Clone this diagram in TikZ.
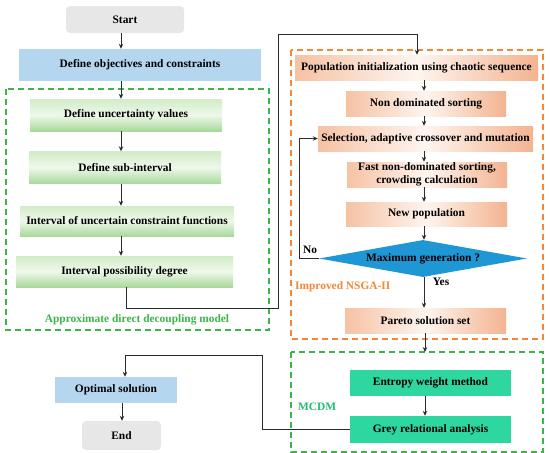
\documentclass[tikz,border=0pt]{standalone}
\usepackage{fontspec}
\setmainfont{Liberation Serif}
\usetikzlibrary{shapes.geometric,arrows.meta,calc}
\definecolor{grayfill}{HTML}{E7E7E7}
\definecolor{bluefill}{HTML}{B5D6EF}
\definecolor{greenTop}{HTML}{D2ECC8}
\definecolor{greenMid}{HTML}{EEF8EA}
\definecolor{greenBot}{HTML}{A8D99B}
\definecolor{orL}{HTML}{F6C2A4}
\definecolor{orM}{HTML}{FEF5EF}
\definecolor{orR}{HTML}{F3B390}
\definecolor{diafill}{HTML}{1F97D5}
\definecolor{tealfill}{HTML}{2ED6A0}
\definecolor{gdash}{HTML}{3CB54A}
\definecolor{odash}{HTML}{F58634}
\definecolor{mcdmtxt}{HTML}{22BC6E}
\definecolor{linec}{HTML}{2B2B2B}
\tikzset{
  basebox/.style={rectangle, inner sep=0pt, align=center, text=black,
    font=\bfseries\fontsize{11.4}{13}\selectfont},
  graybox/.style={basebox, fill=grayfill, rounded corners=4pt},
  bluebox/.style={basebox, fill=bluefill},
  greenbox/.style={basebox, top color=greenTop, bottom color=greenBot, middle color=greenMid},
  orbox/.style={basebox, left color=orL, right color=orR, middle color=orM},
  tealbox/.style={basebox, fill=tealfill},
  arr/.style={draw=linec, line width=0.9pt, -{Stealth[length=5pt,width=4.5pt]}},
  conn/.style={draw=linec, line width=0.9pt},
  gframe/.style={draw=gdash, line width=1.4pt, dash pattern=on 6pt off 4pt},
  oframe/.style={draw=odash, line width=1.4pt, dash pattern=on 6pt off 4pt},
  lbl/.style={font=\bfseries\fontsize{11.4}{13}\selectfont, inner sep=0pt},
}
\begin{document}
\begin{tikzpicture}[x=1pt,y=-1pt]
\useasboundingbox (0,0) rectangle (550,453);
% frames
\draw[gframe] (6,89) rectangle (269,330);
\draw[oframe] (291,50) rectangle (543,339);
\draw[gframe] (291,352) rectangle (543,452);
% left column
\node[graybox, minimum width=118pt, minimum height=27pt] (start) at (125,19.5) {Start};
\node[bluebox, minimum width=242pt, minimum height=32pt] (obj) at (140,65) {Define objectives and constraints};
\node[greenbox, minimum width=192pt, minimum height=32pt] (unc) at (126,115) {Define uncertainty values};
\node[greenbox, minimum width=192pt, minimum height=32pt] (sub) at (125,167.5) {Define sub-interval};
\node[greenbox, minimum width=214pt, minimum height=30pt] (intv) at (127,221) {Interval of uncertain constraint functions};
\node[greenbox, minimum width=217pt, minimum height=31pt] (poss) at (124.5,271.5) {Interval possibility degree};
\node[lbl, text=gdash] (adm) at (137,320) {Approximate direct decoupling model};
\coordinate (ax) at (121,0);
\draw[arr] (start.south -| ax) -- (obj.north -| ax);
\draw[arr] (obj.south -| ax) -- (unc.north -| ax);
\draw[arr] (unc.south -| ax) -- (sub.north -| ax);
\draw[arr] (sub.south -| ax) -- (intv.north -| ax);
\draw[arr] (intv.south -| ax) -- (poss.north -| ax);
% right column
\node[orbox, minimum width=243pt, minimum height=25pt] (pop) at (416.5,67.5) {Population initialization using chaotic sequence};
\node[orbox, minimum width=160pt, minimum height=25pt] (nds) at (426,103.5) {Non dominated sorting};
\node[orbox, minimum width=215pt, minimum height=25pt] (sel) at (425.5,138.5) {Selection, adaptive crossover and mutation};
\node[orbox, minimum width=160pt, minimum height=25pt] (fast) at (427,174.5) {Fast non-dominated sorting,\\crowding calculation};
\node[orbox, minimum width=161pt, minimum height=24pt] (newp) at (426.5,214) {New population};
\node[diamond, aspect=5.6, fill=diafill, inner sep=0pt, minimum width=208pt, minimum height=37pt,
      font=\bfseries\fontsize{11.4}{13}\selectfont] (dia) at (423,258.5) {Maximum generation ?};
\node[orbox, minimum width=161pt, minimum height=25pt] (par) at (425.5,320.5) {Pareto solution set};
\node[lbl, text=odash, anchor=west] (nsga) at (295,287) {Improved NSGA-II};
\node[lbl] (no) at (310,250) {No};
\node[lbl] (yes) at (441,281.5) {Yes};
\coordinate (bx) at (424,0);
\draw[arr] (pop.south -| bx) -- (nds.north -| bx);
\draw[arr] (nds.south -| bx) -- (sel.north -| bx);
\draw[arr] (sel.south -| bx) -- (fast.north -| bx);
\draw[arr] (fast.south -| bx) -- (newp.north -| bx);
\draw[arr] (newp.south -| bx) -- (dia.north -| bx);
\draw[arr] (dia.south -| bx) -- (par.north -| bx);
\coordinate (loopx) at (299,0);
\draw[arr] (dia.west) -- (dia.west -| loopx) -- (sel.west -| loopx) -- (sel.west);
% connector from left block to population
\coordinate (c1) at (126,308);
\coordinate (c2) at (278,308);
\coordinate (c3) at (278,34);
\coordinate (c4) at (417,34);
\draw[arr] (poss.south -| c1) -- (c1) -- (c2) -- (c3) -- (c4) -- (pop.north -| c4);
% MCDM
\node[tealbox, minimum width=161pt, minimum height=26pt] (ent) at (430.5,383) {Entropy weight method};
\node[tealbox, minimum width=161pt, minimum height=27pt] (grey) at (430.5,429.5) {Grey relational analysis};
\node[lbl, text=mcdmtxt, anchor=west] (mcdm) at (298,407) {MCDM};
\coordinate (mtop) at (425,352);
\draw[arr] (par.south -| mtop) -- (mtop);
\draw[arr] (ent.south -| mtop) -- (grey.north -| mtop);
% output
\node[bluebox, minimum width=122pt, minimum height=26pt] (opt) at (116,390) {Optimal solution};
\node[graybox, minimum width=79pt, minimum height=29pt] (end) at (121.5,435.5) {End};
\coordinate (d1) at (262,355);
\coordinate (d2) at (125,355);
\draw[arr] (grey.west) -- (grey.west -| d1) -- (d1) -- (d2) -- (opt.north -| d2);
\coordinate (ex) at (122,0);
\draw[arr] (opt.south -| ex) -- (end.north -| ex);
\end{tikzpicture}
\end{document}
